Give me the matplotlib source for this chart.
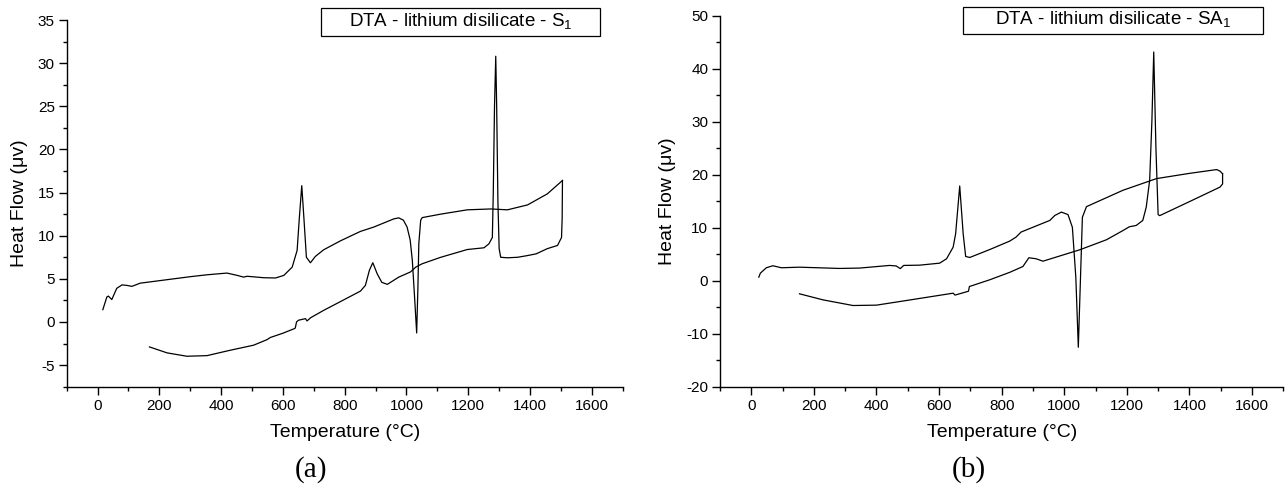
import matplotlib
matplotlib.use("Agg")
import matplotlib.pyplot as plt
from matplotlib.patches import Rectangle
from matplotlib.ticker import MultipleLocator

plt.rcParams['font.family'] = ['Liberation Sans', 'DejaVu Sans']
plt.rcParams['mathtext.fontset'] = 'custom'
plt.rcParams['mathtext.rm'] = 'Liberation Sans'
plt.rcParams['axes.unicode_minus'] = False

# ---- Panel (a): S1 ----
a_heat_T = [17, 30, 35, 46, 62, 79, 95, 111, 138, 246, 300, 354, 419, 452, 473, 484, 538, 576, 603,
            630, 646, 653, 661, 668, 676, 689, 705, 732, 786, 851, 894, 959, 975, 990, 1002,
            1012, 1019, 1026, 1033, 1037, 1040, 1046, 1051, 1111, 1197, 1273, 1327, 1392, 1456, 1505]
a_heat_V = [1.43, 2.9, 3.0, 2.6, 3.9, 4.3, 4.24, 4.13, 4.5, 5.0, 5.25, 5.47, 5.67, 5.4, 5.2, 5.3, 5.13, 5.1, 5.4,
            6.36, 8.3, 12.0, 15.8, 12.0, 7.5, 6.86, 7.6, 8.37, 9.4, 10.5, 11.0, 11.95, 12.07, 11.8, 11.0,
            9.5, 7.1, 3.0, -1.27, 4.0, 9.1, 11.8, 12.1, 12.5, 13.0, 13.1, 13.0, 13.57, 14.85, 16.4]
a_cool_T = [1505, 1504, 1502, 1489, 1456, 1420, 1392, 1360, 1327, 1305, 1300, 1296, 1292, 1289, 1285,
            1281, 1278, 1267, 1251, 1197, 1111, 1051, 1030, 1013, 975, 938, 920, 905, 891, 880, 867,
            851, 786, 732, 690, 678, 673, 650, 644, 640, 637, 600, 559, 549, 505, 430, 354, 289, 225, 168]
a_cool_V = [16.4, 12.0, 9.8, 8.87, 8.5, 7.9, 7.7, 7.5, 7.44, 7.5, 8.5, 14.0, 25.0, 30.8, 25.0,
            15.0, 9.8, 9.06, 8.6, 8.4, 7.5, 6.75, 6.36, 5.8, 5.2, 4.36, 4.6, 5.6, 6.87, 6.0, 4.24,
            3.58, 2.36, 1.35, 0.5, 0.12, 0.39, 0.2, 0.0, -0.7, -0.77, -1.3, -1.8, -2.04, -2.69, -3.27,
            -3.9, -3.97, -3.58, -2.89]

# ---- Panel (b): SA1 ----
b_heat_T = [24, 29, 48, 69, 96, 154, 282, 346, 442, 463, 476, 487, 538, 602, 624, 645, 653, 666,
            677, 685, 698, 762, 826, 846, 862, 954, 959, 970, 991, 1012, 1026, 1037, 1045, 1052,
            1058, 1071, 1188, 1295, 1402, 1487, 1498, 1506]
b_heat_V = [0.68, 1.44, 2.46, 2.84, 2.46, 2.57, 2.33, 2.4, 2.9, 2.8, 2.3, 2.9, 2.95, 3.33, 4.16, 6.35,
            8.9, 17.9, 8.9, 4.6, 4.4, 5.9, 7.5, 8.25, 9.2, 11.4, 11.7, 12.34, 12.97, 12.5, 10.1, 0.68,
            -12.55, 0.68, 12.0, 14.0, 17.1, 19.3, 20.3, 21.0, 20.7, 20.2]
b_cool_T = [1506, 1506, 1498, 1402, 1305, 1300, 1293, 1286, 1280, 1273, 1262, 1251, 1230, 1208,
            1188, 1135, 1050, 932, 910, 887, 868, 826, 762, 710, 697, 694, 651, 645, 496, 400,
            325, 229, 154]
b_cool_V = [20.2, 18.3, 17.7, 15.0, 12.3, 12.5, 25.0, 43.2, 30.0, 19.0, 13.9, 11.4, 10.45, 10.2,
            9.5, 7.75, 5.86, 3.7, 4.16, 4.35, 2.7, 1.6, 0.19, -0.83, -1.08, -1.97, -2.7, -2.34,
            -3.72, -4.6, -4.67, -3.6, -2.46]

x_label = "Temperature (°C)"
y_label = "Heat Flow (μv)"
legend_a = r"DTA - lithium disilicate - S$_{1}$"
legend_b = r"DTA - lithium disilicate - SA$_{1}$"

W, H = 1287, 488
fig = plt.figure(figsize=(W / 100, H / 100), dpi=100)


def px_box(l, r, b, t):
    return [l / W, 1 - b / H, (r - l) / W, (b - t) / H]


def style(ax, ylim, ymaj, ymin):
    ax.set_xlim(-100, 1700)
    ax.set_ylim(*ylim)
    for s in ('top', 'right'):
        ax.spines[s].set_visible(False)
    for s in ('left', 'bottom'):
        ax.spines[s].set_linewidth(1.0)
    ax.xaxis.set_major_locator(MultipleLocator(200))
    ax.xaxis.set_minor_locator(MultipleLocator(100))
    ax.yaxis.set_major_locator(MultipleLocator(ymaj))
    ax.yaxis.set_minor_locator(MultipleLocator(ymin))
    ax.tick_params(which='major', direction='out', length=5.5, width=1.0, labelsize=11, pad=3)
    ax.tick_params(which='minor', direction='out', length=3, width=1.0)
    ax.set_xticks([t for t in range(0, 1601, 200)])
    ax.set_xlabel(x_label, fontsize=14, labelpad=8)
    ax.set_ylabel(y_label, fontsize=14, labelpad=7)


ax1 = fig.add_axes(px_box(66.7, 622.7, 386.7, 20))
ax1.plot(a_heat_T, a_heat_V, color='black', lw=0.9)
ax1.plot(a_cool_T, a_cool_V, color='black', lw=0.9)
style(ax1, (-7.5, 35), 5, 2.5)

ax2 = fig.add_axes(px_box(720, 1283.3, 386.7, 16))
ax2.plot(b_heat_T, b_heat_V, color='black', lw=0.9)
ax2.plot(b_cool_T, b_cool_V, color='black', lw=0.9)
style(ax2, (-20, 50), 10, 5)


def legend_box(l, r, t, b, text):
    rect = Rectangle((l / W, 1 - b / H), (r - l) / W, (b - t) / H, transform=fig.transFigure,
                     fill=False, edgecolor='black', lw=0.9)
    fig.add_artist(rect)
    fig.text((l + r) / 2 / W, 1 - (t + b) / 2 / H, text, ha='center', va='center', fontsize=13.5)


legend_box(320.7, 600, 8.3, 35.7, legend_a)
legend_box(963.3, 1263.3, 6.7, 34, legend_b)

fig.text(311 / W, 1 - 470 / H, "(a)", ha='center', va='center', fontsize=21,
         family=['Liberation Serif', 'DejaVu Serif'])
fig.text(969 / W, 1 - 470 / H, "(b)", ha='center', va='center', fontsize=21,
         family=['Liberation Serif', 'DejaVu Serif'])

fig.savefig("out.png", dpi=100)
